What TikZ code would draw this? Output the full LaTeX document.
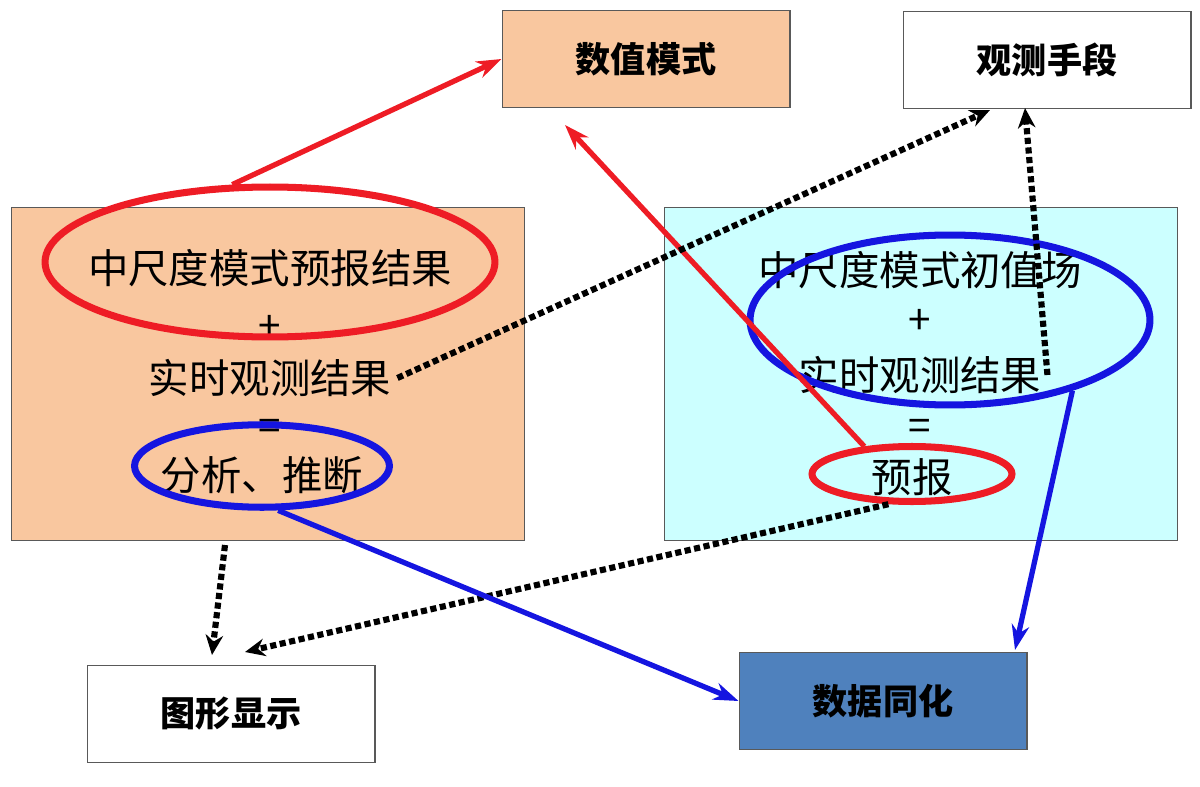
\documentclass[tikz,border=0pt]{standalone}
\usepackage{fontspec}
\setmainfont{Noto Sans CJK SC}
\usetikzlibrary{arrows.meta,shapes.geometric}
\definecolor{peach}{HTML}{F9C79F}
\definecolor{paleblue}{HTML}{CCFFFF}
\definecolor{steel}{HTML}{4F81BD}
\definecolor{myred}{HTML}{EE1C25}
\definecolor{myblue}{HTML}{1515E0}
\begin{document}
\begin{tikzpicture}[x=0.02cm,y=-0.02cm,
    box/.style={draw=gray!70!black,line width=.6pt,minimum width=5.76cm,minimum height=1.94cm,
        font={\fontsize{20}{24}\selectfont\bfseries}},
    big/.style={draw=gray!70!black,line width=.6pt,minimum width=10.26cm,minimum height=6.66cm},
    txt/.style={font={\fontsize{23}{27}\selectfont}},
    ring/.style={ellipse,draw,line width=4pt,minimum width=#1},
    redline/.style={draw=myred,line width=3pt,-{Stealth[length=5mm,width=3.5mm]}},
    blueline/.style={draw=myblue,line width=3pt,-{Stealth[length=5mm,width=3.5mm]}},
    dots/.style={draw=black,line width=3.5pt,dotted,-{Stealth[length=4mm,width=3.5mm]}},
    ]
    \useasboundingbox (0,0) rectangle (1200,787);
    % boxes
    \node[box,fill=peach] (model) at (646,59) {数值模式};
    \node[box,fill=white] (obs) at (1047,60) {观测手段};
    \node[box,fill=white] (graph) at (231,714) {图形显示};
    \node[box,fill=steel] (assim) at (883,701) {数据同化};
    \node[big,fill=peach] (left) at (268,374) {};
    \node[big,fill=paleblue] (right) at (921,374) {};
    % left box text
    \node[txt] (lfc) at (270,268) {中尺度模式预报结果};
    \node[txt] (lplus) at (270,328) {+};
    \node[txt] (lobs) at (270,378) {实时观测结果};
    \node[txt] (leq) at (270,430) {=};
    \node[txt] (lana) at (262,475) {分析、推断};
    % right box text
    \node[txt] (rinit) at (920,270) {中尺度模式初值场};
    \node[txt] (rplus) at (920,322) {+};
    \node[txt] (robs) at (920,375) {实时观测结果};
    \node[txt] (req) at (920,430) {=};
    \node[txt] (rfc) at (912,477) {预报};
    % rings
    \node[ring=9cm,draw=myred,minimum height=3cm] (lring) at (270,262) {};
    \node[ring=5.1cm,draw=myblue,minimum height=1.65cm] (aring) at (262,466) {};
    \node[ring=8cm,draw=myblue,minimum height=3.4cm] (rring) at (950,320) {};
    \node[ring=4cm,draw=myred,minimum height=1.1cm] (fring) at (912,474) {};
    % arrows
    \draw[redline] (lring.116) -- (model.west);
    \draw[redline] (fring.150) -- (565,125);
    \draw[dots] (lobs.east) -- (990,110);
    \draw[dots] (robs.east) -- (1025,108);
    \draw[dots] (225,545) -- (212,655);
    \draw[dots] (fring.-128) -- (245,652);
    \draw[blueline] (aring.-70) -- (assim.west);
    \draw[blueline] (rring.-30) -- (1015,650);
\end{tikzpicture}
\end{document}
